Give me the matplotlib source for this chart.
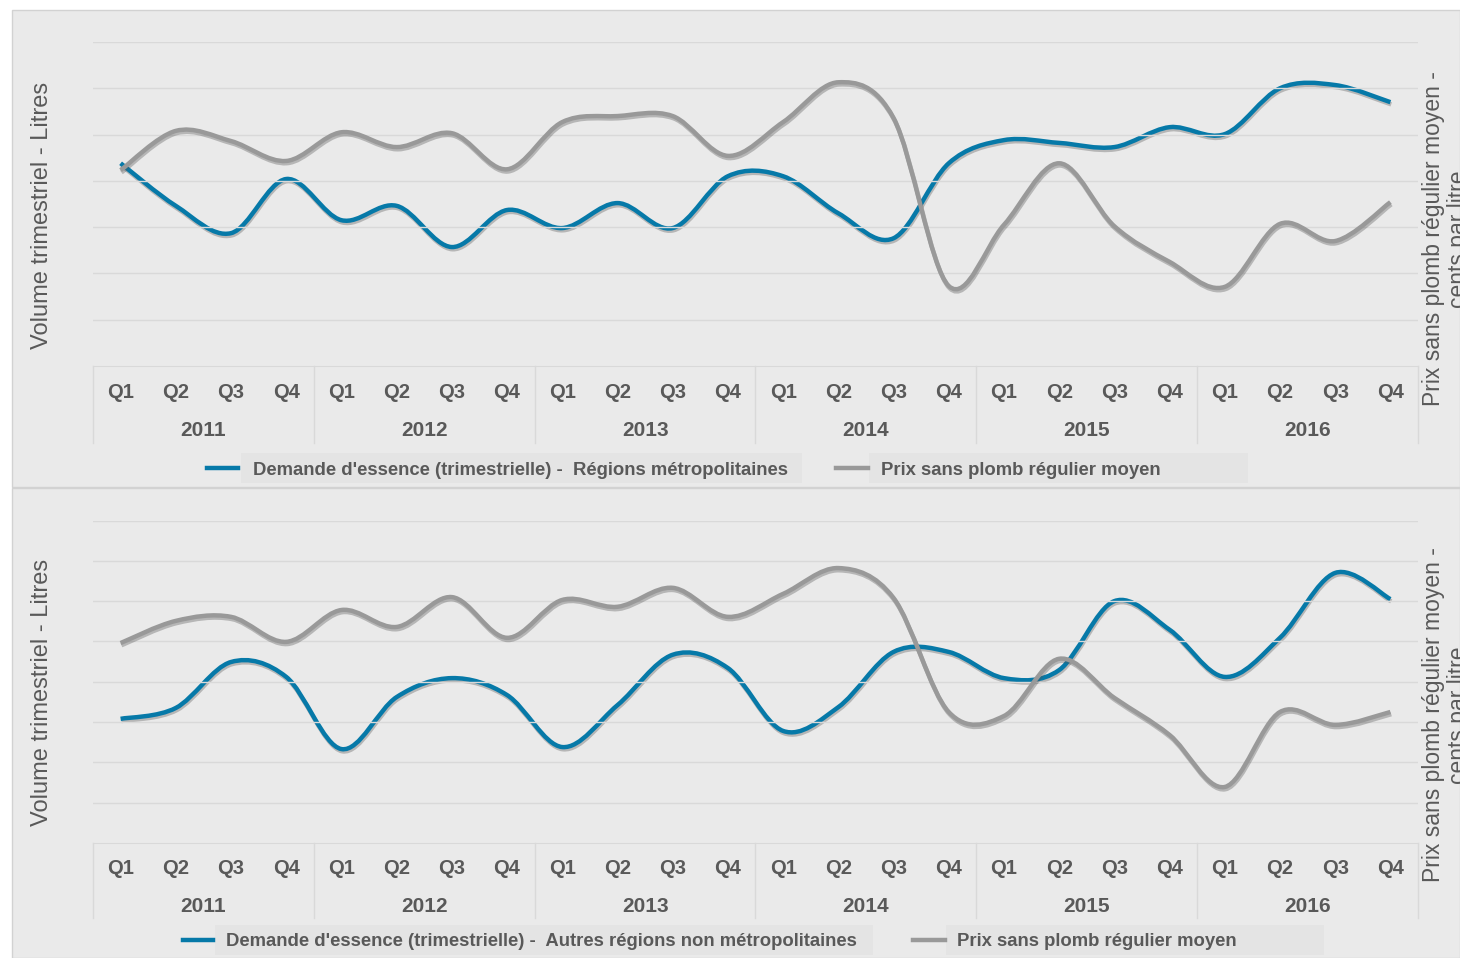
import numpy as np
import matplotlib.pyplot as plt
import matplotlib.patheffects as pe
import matplotlib.transforms as mtransforms
from matplotlib.path import Path
from matplotlib.patches import PathPatch, Rectangle
from matplotlib.lines import Line2D

plt.rcParams['font.family'] = ['Liberation Sans', 'DejaVu Sans']

# categories
quarters = ['Q1', 'Q2', 'Q3', 'Q4']
years = ['2011', '2012', '2013', '2014', '2015', '2016']

# values, in gridline units (no scale shown on the original)
demande_metro = [4.38, 3.46, 2.87, 4.04, 3.15, 3.46, 2.57, 3.37, 2.98, 3.52, 2.98, 4.10,
                 4.10, 3.30, 2.76, 4.38, 4.88, 4.82, 4.73, 5.16, 5.01, 6.00, 6.07, 5.70]
prix_metro = [4.23, 5.08, 4.86, 4.43, 5.05, 4.73, 5.03, 4.25, 5.27, 5.40, 5.40, 4.54,
              5.27, 6.13, 5.36, 1.73, 3.05, 4.38, 3.02, 2.25, 1.71, 3.07, 2.70, 3.54]
demande_autres = [3.08, 3.35, 4.49, 4.12, 2.33, 3.62, 4.09, 3.67, 2.38, 3.42, 4.67, 4.34,
                  2.78, 3.37, 4.74, 4.74, 4.09, 4.29, 6.00, 5.29, 4.12, 5.09, 6.70, 6.05]
prix_autres = [4.96, 5.51, 5.61, 4.99, 5.78, 5.36, 6.10, 5.09, 6.03, 5.86, 6.33, 5.61,
               6.18, 6.82, 6.08, 3.25, 3.15, 4.57, 3.60, 2.68, 1.39, 3.25, 2.93, 3.25]

lab_demande_metro = "Demande d'essence (trimestrielle) -  Régions métropolitaines"
lab_demande_autres = "Demande d'essence (trimestrielle) -  Autres régions non métropolitaines"
lab_prix = "Prix sans plomb régulier moyen"
lab_left = "Volume trimestriel - Litres"
lab_right = "Prix sans plomb régulier moyen -\ncents par litre"

BLUE = '#0679a8'
GREY = '#999999'
TXT = '#595959'
GRID = '#d9d9d9'
PANEL = '#eaeaea'

W, H = 1460, 958


def fx(px):
    return px / W


def fy(py):
    return 1 - py / H


def smooth_path(xs, ys, t=1 / 6.0):
    # smoothed line like the spreadsheet one, bezier segments through each point
    pts = list(zip(xs, ys))
    n = len(pts)
    verts = [pts[0]]
    codes = [Path.MOVETO]
    for i in range(n - 1):
        x0, y0 = pts[max(i - 1, 0)]
        x1, y1 = pts[i]
        x2, y2 = pts[i + 1]
        x3, y3 = pts[min(i + 2, n - 1)]
        verts += [(x1 + (x2 - x0) * t, y1 + (y2 - y0) * t),
                  (x2 - (x3 - x1) * t, y2 - (y3 - y1) * t),
                  (x2, y2)]
        codes += [Path.CURVE4] * 3
    return Path(verts, codes)


def add_curve(ax, ys, color):
    xs = np.arange(len(ys))
    patch = PathPatch(smooth_path(xs, ys), fill=False, edgecolor=color, lw=3.2,
                      capstyle='butt', joinstyle='round',
                      path_effects=[pe.SimpleLineShadow(offset=(0.6, -1.6), shadow_color='#555555', alpha=0.35),
                                    pe.Normal()])
    ax.add_patch(patch)


def draw_panel(fig, top_px, bot_px, n_grid, demand, price, quarter_dy, year_dy, cat_h):
    ax = fig.add_axes([fx(93), fy(bot_px), (1418 - 93) / W, (bot_px - top_px) / H])
    ax.set_facecolor('none')
    ax.set_xlim(-0.5, len(demand) - 0.5)
    ax.set_ylim(0, n_grid)
    ax.set_yticks(range(1, n_grid + 1))
    ax.yaxis.grid(True, color=GRID, lw=1)
    ax.tick_params(axis='y', length=0, labelleft=False)
    for s in ['top', 'left', 'right']:
        ax.spines[s].set_visible(False)
    ax.spines['bottom'].set_color(GRID)

    ax.set_xticks(range(len(demand)))
    ax.set_xticklabels(quarters * len(years), fontsize=14.5, fontweight='bold', color=TXT)
    ax.tick_params(axis='x', length=0, pad=quarter_dy)

    ah = bot_px - top_px
    trans = mtransforms.blended_transform_factory(ax.transData, ax.transAxes)
    for i, yr in enumerate(years):
        ax.text(4 * i + 1.5, -year_dy / ah, yr, transform=trans, ha='center', va='center',
                fontsize=15, fontweight='bold', color=TXT)
    for i in range(len(years) + 1):
        xb = 4 * i - 0.5
        ax.plot([xb, xb], [0, -cat_h / ah], transform=trans, clip_on=False, color=GRID, lw=1)

    add_curve(ax, demand, BLUE)

    ax2 = ax.twinx()
    ax2.set_ylim(ax.get_ylim())
    ax2.set_yticks([])
    for s in ax2.spines.values():
        s.set_visible(False)
    add_curve(ax2, price, GREY)
    return ax


def draw_legend(fig, y_px, items, fs):
    for (x0, x1, tx, bx0, bx1, color, label) in items:
        fig.patches.append(Rectangle((fx(bx0), fy(y_px + 15)), (bx1 - bx0) / W, 30 / H,
                                     transform=fig.transFigure, facecolor='#e4e4e4', edgecolor='none', zorder=0))
        fig.add_artist(Line2D([fx(x0), fx(x1)], [fy(y_px), fy(y_px)], color=color, lw=3.2,
                              transform=fig.transFigure))
        fig.text(fx(tx), fy(y_px + 2), label, ha='left', va='center', fontsize=fs,
                 fontweight='bold', color=TXT)


fig = plt.figure(figsize=(14.6, 9.58), dpi=100)

# panel backgrounds
fig.patches.append(Rectangle((fx(12), fy(487)), (W - 12) / W, 477 / H, transform=fig.transFigure,
                             facecolor=PANEL, edgecolor='#d2d2d2', lw=1, zorder=-1))
fig.patches.append(Rectangle((fx(12), fy(958)), (W - 12) / W, 470 / H, transform=fig.transFigure,
                             facecolor=PANEL, edgecolor='#d2d2d2', lw=1, zorder=-1))

draw_panel(fig, 42, 366, 7, demande_metro, prix_metro, 12.5, 65, 77)
draw_panel(fig, 520.5, 843, 8, demande_autres, prix_autres, 11.5, 64, 75)

# axis titles
for yc in (215, 692):
    fig.text(fx(42), fy(yc), lab_left, rotation=90, ha='center', va='center',
             fontsize=17, color=TXT)
for yc in (239, 715):
    fig.text(fx(1446), fy(yc), lab_right, rotation=90, ha='center', va='center',
             fontsize=16.5, color=TXT, multialignment='center', linespacing=1.1)

draw_legend(fig, 468, [(207, 238, 253, 241, 802, BLUE, lab_demande_metro),
                       (836, 868, 881, 869, 1248, GREY, lab_prix)], 13.3)
draw_legend(fig, 940, [(183, 213, 226, 215, 873, BLUE, lab_demande_autres),
                       (913, 945, 957, 946, 1324, GREY, lab_prix)], 13.3)

fig.savefig('out.png', dpi=100, facecolor='white')
